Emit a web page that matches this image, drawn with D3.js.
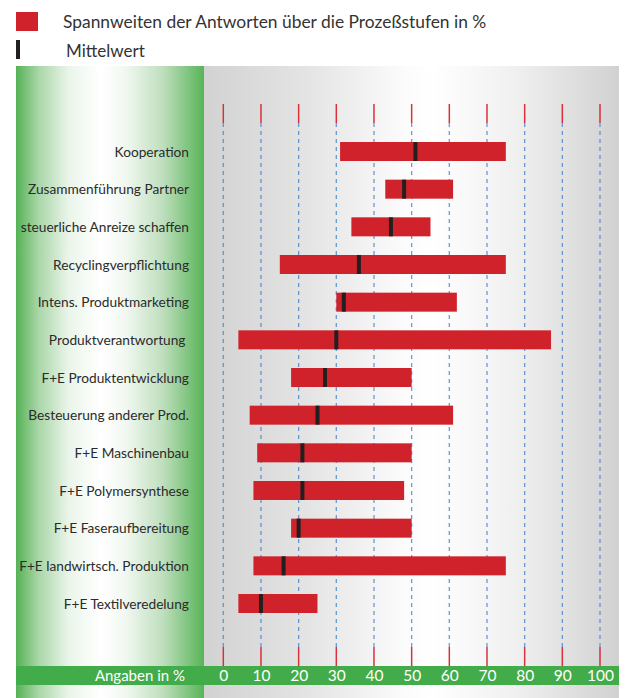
<!DOCTYPE html>
<html>
<head>
<meta charset="utf-8">
<script src="https://cdn.jsdelivr.net/npm/d3@7"></script>
<style>
  html, body { margin: 0; padding: 0; background: #fff; }
  svg { display: block; }
  text { font-family: Lato, "Open Sans", sans-serif; }
</style>
</head>
<body>
<svg id="chart" width="627" height="698"></svg>
<script>
// Prozessstufen (top to bottom)
const categories = [
  "Kooperation",
  "Zusammenführung Partner",
  "steuerliche Anreize schaffen",
  "Recyclingverpflichtung",
  "Intens. Produktmarketing",
  "Produktverantwortung ",
  "F+E Produktentwicklung",
  "Besteuerung anderer Prod.",
  "F+E Maschinenbau",
  "F+E Polymersynthese",
  "F+E Faseraufbereitung",
  "F+E landwirtsch. Produktion",
  "F+E Textilveredelung"
];
// range of answers (min / max) in %
const rangeMin = [31, 43, 34, 15, 30, 4, 18, 7, 9, 8, 18, 8, 4];
const rangeMax = [75, 61, 55, 75, 62, 87, 50, 61, 50, 48, 50, 75, 25];
// mean value in %
const meanValues = [51, 48, 44.5, 36, 32, 30, 27, 25, 21, 21, 20, 16, 10];
const tickValues = [0, 10, 20, 30, 40, 50, 60, 70, 80, 90, 100];

const legendRange = "Spannweiten der Antworten über die Prozeßstufen in %";
const legendMean = "Mittelwert";
const axisTitle = "Angaben in %";

const svg = d3.select("#chart");
const defs = svg.append("defs");

// geometry
const panelTop = 66, panelBottom = 698;
const leftX = 16, splitX = 204, rightX = 619;
const bandTop = 666, bandH = 19;
const barH = 19;

const x = d3.scaleLinear().domain([0, 100]).range([223.3, 600]);
const y = d3.scalePoint().domain(categories).range([151.5, 603.5]);

// gradients
const gGreen = defs.append("linearGradient").attr("id", "gGreen")
  .attr("x1", "0").attr("x2", "1").attr("y1", "0").attr("y2", "0");
[[0, "#55b255"], [0.12, "#a9d6a8"], [0.28, "#eaf5ea"], [0.45, "#ffffff"],
 [0.58, "#f2f8f1"], [0.78, "#bfdfbe"], [1, "#58b458"]]
  .forEach(([o, c]) => gGreen.append("stop").attr("offset", o).attr("stop-color", c));

const gGray = defs.append("linearGradient").attr("id", "gGray")
  .attr("x1", "0").attr("x2", "1").attr("y1", "0").attr("y2", "0");
[[0, "#d2d2d2"], [0.25, "#e4e4e4"], [0.48, "#fbfbfb"], [0.55, "#ffffff"],
 [0.75, "#f0f0f0"], [1, "#d1d1d1"]]
  .forEach(([o, c]) => gGray.append("stop").attr("offset", o).attr("stop-color", c));

// background panels
svg.append("rect").attr("x", leftX).attr("y", panelTop)
  .attr("width", splitX - leftX).attr("height", panelBottom - panelTop)
  .attr("fill", "url(#gGreen)");
svg.append("rect").attr("x", splitX).attr("y", panelTop)
  .attr("width", rightX - splitX).attr("height", panelBottom - panelTop)
  .attr("fill", "url(#gGray)");

// legend
const legend = svg.append("g");
legend.append("rect").attr("x", 16).attr("y", 12).attr("width", 22).attr("height", 19)
  .attr("fill", "#d0222a");
legend.append("text").attr("x", 63).attr("y", 28).text(legendRange)
  .attr("font-size", 17.4).attr("fill", "#333");
legend.append("rect").attr("x", 16).attr("y", 40).attr("width", 4).attr("height", 19)
  .attr("fill", "#231f20");
legend.append("text").attr("x", 66).attr("y", 57).text(legendMean)
  .attr("font-size", 17).attr("fill", "#333");

// grid: red ticks top and bottom, dashed blue lines between
const grid = svg.append("g");
tickValues.forEach(v => {
  const xv = x(v);
  grid.append("line").attr("x1", xv).attr("x2", xv).attr("y1", 123).attr("y2", 647)
    .attr("stroke", "#4f89d2").attr("stroke-width", 1.3).attr("stroke-dasharray", "4,4")
    .attr("stroke-opacity", 0.85);
  grid.append("line").attr("x1", xv).attr("x2", xv).attr("y1", 104).attr("y2", 123)
    .attr("stroke", "#d9313a").attr("stroke-width", 1.5);
  grid.append("line").attr("x1", xv).attr("x2", xv).attr("y1", 647).attr("y2", bandTop)
    .attr("stroke", "#d9313a").attr("stroke-width", 1.5);
});

// range bars
const rows = categories.map((c, i) => ({ c, lo: rangeMin[i], hi: rangeMax[i], m: meanValues[i] }));
svg.append("g").selectAll("rect").data(rows).join("rect")
  .attr("x", d => x(d.lo)).attr("width", d => x(d.hi) - x(d.lo))
  .attr("y", d => y(d.c) - barH / 2).attr("height", barH)
  .attr("fill", "#d0222a");

// mean markers
svg.append("g").selectAll("rect").data(rows).join("rect")
  .attr("x", d => x(d.m) - 2).attr("width", 4)
  .attr("y", d => y(d.c) - barH / 2).attr("height", barH)
  .attr("fill", "#231f20");

// category labels
svg.append("g").selectAll("text").data(categories).join("text")
  .attr("x", 189).attr("y", d => y(d) + 5)
  .attr("text-anchor", "end").attr("font-size", 13.7).attr("fill", "#2b2b2b")
  .style("white-space", "pre")
  .text(d => d);

// bottom axis band
svg.append("rect").attr("x", leftX).attr("y", bandTop)
  .attr("width", rightX - leftX).attr("height", bandH).attr("fill", "#43ac4a");

const axis = d3.axisBottom(x).tickValues(tickValues).tickSize(0).tickPadding(0);
const axisG = svg.append("g").attr("transform", `translate(0,${bandTop})`).call(axis);
axisG.select(".domain").remove();
axisG.selectAll("text").attr("font-size", 15.5).attr("fill", "#fff")
  .attr("font-family", "Lato, 'Open Sans', sans-serif")
  .attr("y", 15).attr("dy", 0);

svg.append("text").attr("x", 185).attr("y", bandTop + 15).attr("text-anchor", "end")
  .attr("font-size", 15).attr("fill", "#fff").text(axisTitle);
</script>
</body>
</html>
